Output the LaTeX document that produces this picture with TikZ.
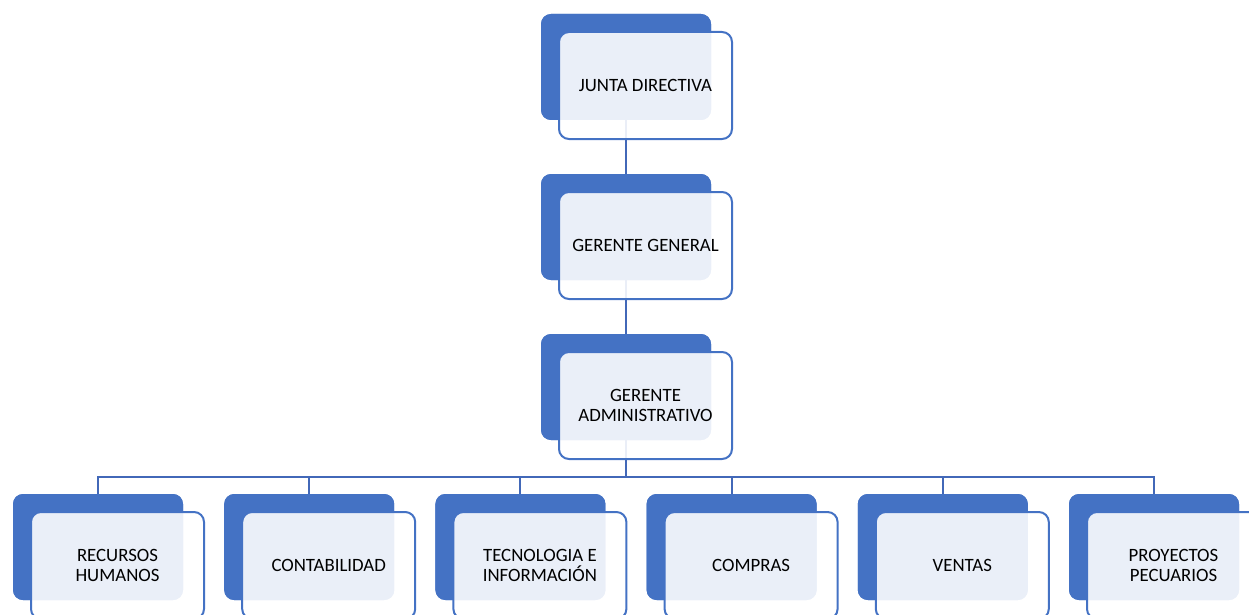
\documentclass[tikz,border=0pt]{standalone}
\usepackage{fontspec}
\setmainfont{Carlito}
\definecolor{obl}{HTML}{4472C4}
\definecolor{cline}{HTML}{4268B8}
\begin{document}
\begin{tikzpicture}[x=1pt,y=-1pt,
  backbox/.style={fill=obl, rounded corners=10pt, minimum width=170pt, minimum height=106pt, inner sep=0pt},
  frontbox/.style={draw=obl, line width=2pt, fill=white, fill opacity=0.89, text opacity=1, rounded corners=10pt, minimum width=173pt, minimum height=107pt, inner sep=0pt, align=center, font=\fontsize{18.8}{20}\selectfont},
  conn/.style={draw=cline, line width=2pt}]
\useasboundingbox (0,0) rectangle (1249,615);
\clip (0,0) rectangle (1249,615);
% back boxes
\node[backbox] (b1) at (626,67) {};
\node[backbox] (b2) at (626,227) {};
\node[backbox] (b3) at (626,387) {};
\foreach \i in {0,...,5}{
  \node[backbox] (c\i) at ({98+211.2*\i},547) {};
}
\coordinate (bus) at (626,477);
% connectors
\draw[conn] (b1.south) -- (b2.north);
\draw[conn] (b2.south) -- (b3.north);
\draw[conn] (b3.south) -- (bus);
\foreach \i in {0,...,5}{
  \draw[conn] (bus) -| (c\i.north);
}
% redraw back boxes over connectors
\node[backbox] at (b1) {};
\node[backbox] at (b2) {};
\node[backbox] at (b3) {};
\foreach \i in {0,...,5}{
  \node[backbox] at (c\i) {};
}
% front boxes
\node[frontbox] (f1) at ([shift={(19.5,18.5)}]b1.center) {JUNTA DIRECTIVA};
\node[frontbox] (f2) at ([shift={(19.5,18.5)}]b2.center) {GERENTE GENERAL};
\node[frontbox] (f3) at ([shift={(19.5,18.5)}]b3.center) {GERENTE\\ADMINISTRATIVO};
\node[frontbox] (g0) at ([shift={(19.5,18.5)}]c0.center) {RECURSOS\\HUMANOS};
\node[frontbox] (g1) at ([shift={(19.5,18.5)}]c1.center) {CONTABILIDAD};
\node[frontbox] (g2) at ([shift={(19.5,18.5)}]c2.center) {TECNOLOGIA E\\INFORMACIÓN};
\node[frontbox] (g3) at ([shift={(19.5,18.5)}]c3.center) {COMPRAS};
\node[frontbox] (g4) at ([shift={(19.5,18.5)}]c4.center) {VENTAS};
\node[frontbox] (g5) at ([shift={(19.5,18.5)}]c5.center) {PROYECTOS\\PECUARIOS};
\end{tikzpicture}
\end{document}
